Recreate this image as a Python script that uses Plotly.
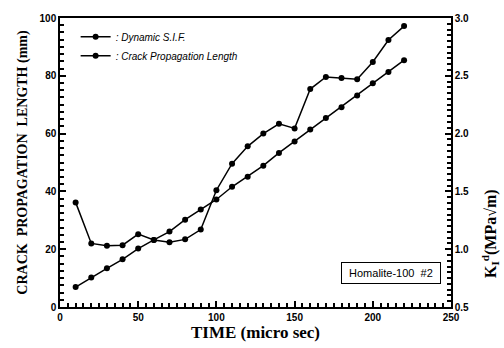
import plotly.graph_objects as go

time_us = [10, 20, 30, 40, 50, 60, 70, 80, 90, 100, 110, 120, 130, 140, 150, 160, 170, 180, 190, 200, 210, 220]
crack_len_mm = [6.9, 10.2, 13.4, 16.5, 20.2, 23.2, 26.1, 30.2, 33.7, 37.2, 41.6, 45.1, 48.9, 53.3, 57.3,
                61.4, 65.4, 69.1, 73.2, 77.4, 81.3, 85.4]
dyn_sif = [1.405, 1.05, 1.03, 1.035, 1.13, 1.08, 1.06, 1.085, 1.17, 1.51, 1.74, 1.89, 2.0, 2.085, 2.045,
           2.385, 2.49, 2.48, 2.47, 2.62, 2.81, 2.93]

NB = "\u00a0"

fig = go.Figure()
fig.add_trace(go.Scatter(x=time_us, y=dyn_sif, yaxis="y2", mode="lines+markers",
                         name=": Dynamic S.I.F.",
                         line=dict(color="black", width=1.5),
                         marker=dict(color="black", size=6, symbol="circle")))
fig.add_trace(go.Scatter(x=time_us, y=crack_len_mm, mode="lines+markers",
                         name=": Crack Propagation Length",
                         line=dict(color="black", width=1.5),
                         marker=dict(color="black", size=6, symbol="circle")))

tickfont = dict(family="Liberation Sans", size=10, color="black", weight="bold")
titlefont = dict(family="Liberation Serif", color="black", weight="bold")

fig.update_layout(
    width=504, height=348,
    margin=dict(l=60, r=53, t=12, b=35),
    paper_bgcolor="white", plot_bgcolor="white",
    showlegend=True,
    legend=dict(x=0.04, y=0.985, xanchor="left", yanchor="top",
                font=dict(family="Liberation Sans", size=10, color="black", style="italic"),
                bgcolor="rgba(0,0,0,0)", tracegroupgap=0, itemwidth=30),
    xaxis=dict(range=[0, 250], dtick=50, showline=True, linecolor="black", linewidth=1.5,
               mirror=True, ticks="inside", ticklen=6, tickcolor="black", tickwidth=1.5, showgrid=False,
               zeroline=False, tickfont=tickfont,
               minor=dict(dtick=5, ticks="inside", ticklen=4, tickcolor="black"),
               title=dict(text="TIME" + NB + "(micro" + NB + "sec)", font=dict(size=17, **titlefont), standoff=1)),
    yaxis=dict(range=[0, 100], dtick=20, showline=True, linecolor="black", linewidth=1.5,
               ticks="inside", ticklen=6, tickcolor="black", tickwidth=1.5, showgrid=False, zeroline=False,
               tickfont=tickfont,
               minor=dict(dtick=2.5, ticks="inside", ticklen=4, tickcolor="black"),
               title=dict(text="CRACK" + NB * 2 + "PROPAGATION" + NB * 2 + "LENGTH" + NB + "(mm)",
                          font=dict(size=14, **titlefont), standoff=9)),
    yaxis2=dict(range=[0.5, 3.0], dtick=0.5, tickformat=".1f", overlaying="y", side="right",
                showline=True, linecolor="black", linewidth=1.5, ticks="inside", ticklen=6,
                tickcolor="black", tickwidth=1.5, showgrid=False, zeroline=False, tickfont=tickfont,
                minor=dict(dtick=0.05, ticks="inside", ticklen=4, tickcolor="black")),
    annotations=[
        dict(x=0.975, y=0.116, xref="paper", yref="paper", xanchor="right", yanchor="middle",
             text=NB + "Homalite-100" + NB * 2 + "#2" + NB, showarrow=False,
             font=dict(family="Liberation Sans", size=11, color="black"),
             bordercolor="black", borderwidth=1, borderpad=4, bgcolor="white"),
        dict(x=0, y=0, xref="paper", yref="paper", showarrow=False, textangle=-90,
             text="K<sub>I</sub><sup>d</sup>(MPa√m)",
             font=dict(size=16, **titlefont)),
    ],
)
ann = fig.layout.annotations[1]
plot_w = 504 - 60 - 53
plot_h = 348 - 12 - 35
ann.x = (490 - 60) / plot_w
ann.y = (313 - 237) / plot_h
ann.xanchor = "center"
ann.yanchor = "middle"

fig.write_html("out.html")
